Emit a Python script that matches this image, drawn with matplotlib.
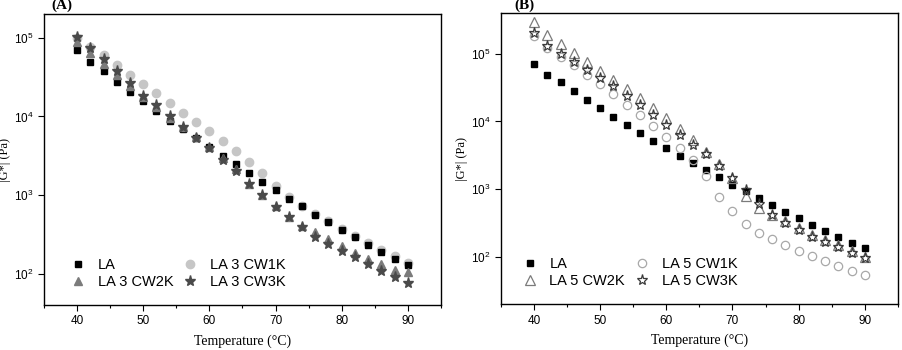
import matplotlib
matplotlib.use("Agg")
import matplotlib.pyplot as plt
from matplotlib.ticker import LogLocator, FuncFormatter, MultipleLocator
import numpy as np

temps = list(range(40, 92, 2))

# panel A
la_a = [7.0e4, 4.95e4, 3.8e4, 2.78e4, 2.06e4, 1.57e4, 1.16e4, 8.85e3, 6.9e3, 5.36e3,
        4.1e3, 3.1e3, 2.45e3, 1.91e3, 1.48e3, 1.15e3, 897, 716, 562, 450,
        360, 290, 235, 190, 156, 128]
cw1k_a = [1.0e5, 7.7e4, 6.0e4, 4.5e4, 3.35e4, 2.55e4, 1.96e4, 1.48e4, 1.12e4, 8.6e3,
          6.6e3, 4.93e3, 3.6e3, 2.65e3, 1.89e3, 1.32e3, 950, 731, 579, 463,
          374, 302, 244, 201, 166, 136]
cw2k_a = [8.9e4, 6.4e4, 4.6e4, 3.35e4, 2.42e4, 1.77e4, 1.3e4, 9.6e3, 7.3e3, 5.47e3,
          4.05e3, 2.95e3, 2.15e3, 1.4e3, 1.0e3, 716, 520, 404, 339, 279,
          226, 184, 154, 131, 111, 105]
cw3k_a = [1.03e5, 7.35e4, 5.4e4, 3.8e4, 2.65e4, 1.84e4, 1.41e4, 1.0e4, 7.4e3, 5.35e3,
          3.96e3, 2.78e3, 2.02e3, 1.39e3, 988, 710, 525, 390, 296, 242,
          197, 162, 134, 108, 92, 77]

# panel B
la_b = [6.95e4, 4.9e4, 3.83e4, 2.78e4, 2.07e4, 1.58e4, 1.18e4, 8.87e3, 6.84e3, 5.21e3,
        4.01e3, 3.13e3, 2.44e3, 1.9e3, 1.49e3, 1.16e3, 925, 736, 580, 463,
        374, 298, 240, 198, 162, 135]
cw1k_b = [1.8e5, 1.22e5, 8.9e4, 6.72e4, 4.79e4, 3.55e4, 2.52e4, 1.76e4, 1.26e4, 8.5e3,
          5.9e3, 4.05e3, 2.73e3, 1.54e3, 759, 470, 309, 227, 185, 149,
          121, 102, 86, 72, 61, 53]
cw2k_b = [2.9e5, 1.91e5, 1.39e5, 1.02e5, 7.55e4, 5.58e4, 4.05e4, 3.0e4, 2.2e4, 1.57e4,
          1.13e4, 7.84e3, 5.3e3, 3.58e3, 2.32e3, 1.46e3, 795, 533, 417, 335,
          267, 213, 178, 148, 121, 101]
cw3k_b = [2.05e5, 1.28e5, 1.0e5, 7.5e4, 5.78e4, 4.45e4, 3.3e4, 2.4e4, 1.75e4, 1.25e4,
          8.95e3, 6.39e3, 4.55e3, 3.25e3, 2.23e3, 1.47e3, 966, 610, 412, 311,
          248, 198, 165, 138, 115, 96]

plt.rcParams['font.family'] = 'Liberation Sans'

fig = plt.figure(figsize=(9.02, 3.5), dpi=100)
ax_a = fig.add_axes([0.0488, 0.1286, 0.440, 0.831])
ax_b = fig.add_axes([0.5554, 0.131, 0.440, 0.832])

serif = {'family': 'Liberation Serif', 'size': 10}


def decade(v, pos):
    return r'$\mathregular{10^{%d}}$' % int(round(np.log10(v)))


def style(ax, ylim):
    ax.set_yscale('log')
    ax.set_xlim(35, 95)
    ax.set_ylim(*ylim)
    ax.xaxis.set_major_locator(MultipleLocator(10))
    ax.xaxis.set_minor_locator(MultipleLocator(5))
    ax.yaxis.set_major_locator(LogLocator(base=10))
    ax.yaxis.set_minor_locator(plt.NullLocator())
    ax.yaxis.set_major_formatter(FuncFormatter(decade))
    ax.tick_params(axis='both', which='major', labelsize=8.5, length=4, width=0.8)
    ax.tick_params(axis='x', which='minor', length=2.5, width=0.8)
    for s in ax.spines.values():
        s.set_linewidth(1.0)
    ax.set_xlabel('Temperature (°C)', fontdict=serif, labelpad=5)
    ax.set_ylabel('|G*| (Pa)', fontdict={'family': 'Liberation Serif', 'size': 9}, labelpad=2)


leg_kw = dict(loc='lower left', ncol=2, frameon=False, fontsize=10.5,
              handletextpad=0.6, columnspacing=0.4, labelspacing=0.2,
              handlelength=1.5)

# (A) filled markers
ax_a.plot(temps, la_a, 's', color='black', ms=5, ls='none', label='LA')
ax_a.plot(temps, cw2k_a, '^', color='#7b7b7b', ms=6, ls='none', label='LA 3 CW2K')
ax_a.plot(temps, cw1k_a, 'o', color='#c6c6c6', ms=6, ls='none', label='LA 3 CW1K', zorder=1.5)
ax_a.plot(temps, cw3k_a, '*', color='#4a4a4a', ms=8, ls='none', label='LA 3 CW3K')
style(ax_a, (40, 2.0e5))
ax_a.legend(bbox_to_anchor=(0.025, 0.01), **leg_kw)
fig.text(0.057, 0.985, '(A)', fontdict={'family': 'Liberation Serif', 'size': 11,
                                       'weight': 'bold'}, va='center')

# (B) open markers
ax_b.plot(temps, la_b, 's', color='black', ms=5, ls='none', label='LA')
ax_b.plot(temps, cw2k_b, '^', mfc='none', mec='#7b7b7b', mew=0.9, ms=7, ls='none',
          label='LA 5 CW2K')
ax_b.plot(temps, cw1k_b, 'o', mfc='none', mec='#a8a8a8', mew=0.9, ms=6, ls='none',
          label='LA 5 CW1K')
ax_b.plot(temps, cw3k_b, '*', mfc='none', mec='#3a3a3a', mew=0.9, ms=8, ls='none',
          label='LA 5 CW3K')
style(ax_b, (20, 4.0e5))
ax_b.legend(bbox_to_anchor=(0.012, 0.01), **leg_kw)
fig.text(0.57, 0.985, '(B)', fontdict={'family': 'Liberation Serif', 'size': 11,
                                      'weight': 'bold'}, va='center')

fig.savefig('out.png', dpi=100)
